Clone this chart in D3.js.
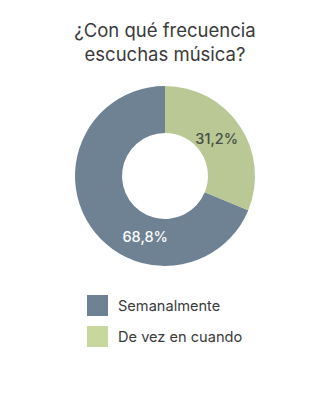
<!DOCTYPE html>
<html>
<head>
<meta charset="utf-8">
<script src="https://cdn.jsdelivr.net/npm/d3@7"></script>
<style>
  html, body { margin: 0; padding: 0; background: #ffffff; }
  svg { display: block; font-family: Inter, "Noto Sans", sans-serif; }
</style>
</head>
<body>
<svg id="chart" width="330" height="398"></svg>
<script>
const titleLines = ["¿Con qué frecuencia", "escuchas música?"];
const categories = ["Semanalmente", "De vez en cuando"];
const values = [68.8, 31.2];
const colors = ["#6e8294", "#bac896"];
const legendColors = ["#6e8294", "#c8d79b"];
const labelColors = ["#ffffff", "#464f45"];
// where each value label sits along its slice (0 = slice start, 1 = slice end)
const labelFrac = [0.654, 0.52];

const svg = d3.select("#chart");
const cx = 165, cy = 176, outerR = 90, innerR = 43, labelR = 64;

svg.append("g")
  .selectAll("text")
  .data(titleLines)
  .join("text")
  .attr("x", 165)
  .attr("y", (d, i) => 37 + i * 24)
  .attr("text-anchor", "middle")
  .attr("font-size", 18.5)
  .attr("fill", "#3a3a3a")
  .text(d => d);

const data = categories.map((c, i) => ({
  category: c, value: values[i], color: colors[i],
  legendColor: legendColors[i], labelColor: labelColors[i], frac: labelFrac[i]
}));

// slices laid out from 12 o'clock, the second one on the right-hand side
const pie = d3.pie().value(d => d.value).sort(null).startAngle(2 * Math.PI).endAngle(0);
const arcs = pie(data);
const arc = d3.arc().innerRadius(innerR).outerRadius(outerR);

const g = svg.append("g").attr("transform", `translate(${cx},${cy})`);
g.selectAll("path")
  .data(arcs)
  .join("path")
  .attr("d", arc)
  .attr("fill", d => d.data.color);

g.selectAll("text")
  .data(arcs)
  .join("text")
  .attr("transform", d => {
    const a = d.startAngle + (d.endAngle - d.startAngle) * d.data.frac;
    return `translate(${labelR * Math.sin(a)},${-labelR * Math.cos(a)})`;
  })
  .attr("text-anchor", "middle")
  .attr("dy", "0.36em")
  .attr("font-size", 14.5)
  .attr("font-weight", 500)
  .attr("fill", d => d.data.labelColor)
  .text(d => d3.format(".1f")(d.data.value).replace(".", ",") + "%");

const legend = svg.append("g").attr("transform", "translate(87,295)");
const item = legend.selectAll("g")
  .data(data)
  .join("g")
  .attr("transform", (d, i) => `translate(0,${i * 31})`);
item.append("rect")
  .attr("width", 21)
  .attr("height", 21)
  .attr("fill", d => d.legendColor);
item.append("text")
  .attr("x", 31)
  .attr("y", 11)
  .attr("dy", "0.36em")
  .attr("font-size", 14.6)
  .attr("fill", "#3a3a3a")
  .text(d => d.category);
</script>
</body>
</html>
